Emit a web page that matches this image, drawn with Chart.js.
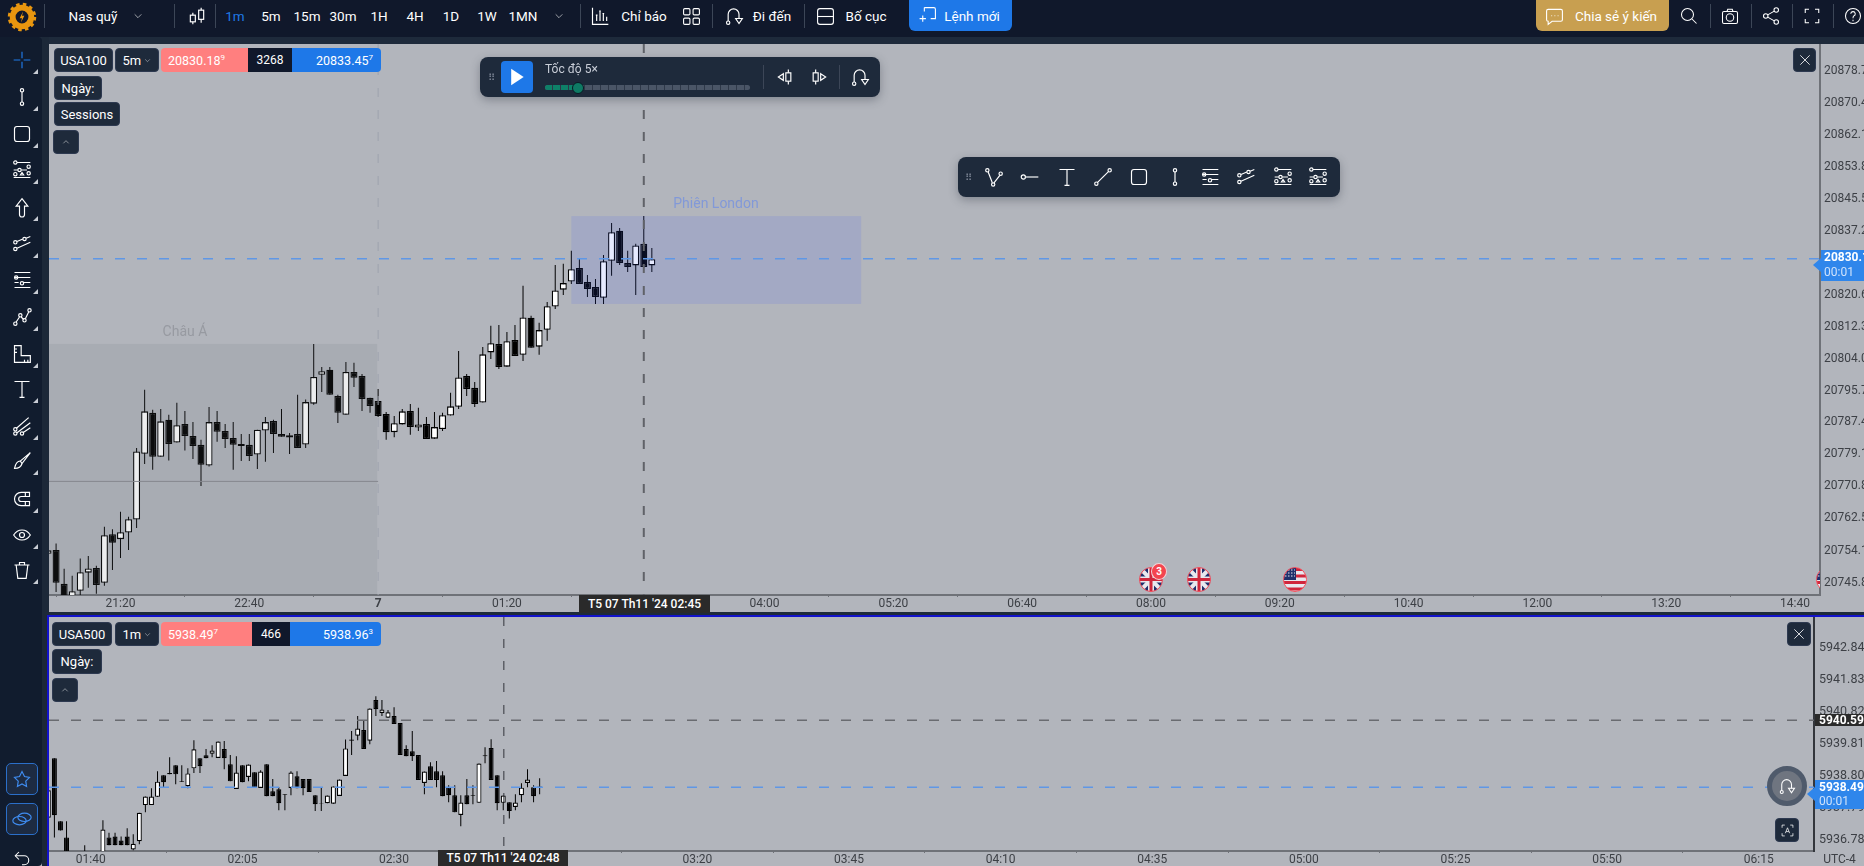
<!DOCTYPE html>
<html>
<head>
<meta charset="utf-8">
<title>USA100 / USA500</title>
<script src="https://cdn.jsdelivr.net/npm/chart.js@4"></script>
<style>
  html, body { margin: 0; padding: 0; width: 1864px; height: 866px; overflow: hidden; background: #1c2838; font-family: Roboto, sans-serif; }
  #shell div, #shell span { box-sizing: border-box; }
  .abs { position: absolute; box-sizing: border-box; display: flex; align-items: center; justify-content: center; white-space: nowrap; color: #fff; font-size: 13.5px; }
  canvas { position: absolute; display: block; }
  svg { display: block; overflow: visible; }
</style>
</head>
<body>
<div id="shell"></div>
<canvas id="top-chart" style="left:49px;top:44px;width:1815px;height:568px"></canvas>
<canvas id="bottom-chart" style="left:49px;top:617px;width:1815px;height:249px"></canvas>
<div id="over"></div>
<script>
// USA100 5m, one entry per 5 minute slot, slot 0 is 00:00 on the 7th
const topFirstSlot = -41;
const topOpen = [
  20753.3, 20754.3, 20745.5, 20740.9, 20743.7, 20748.4, 20749.6, 20745.8, 20758.4, 20757.1,
  20758.8, 20762.2, 20779.3, 20789.9, 20778.5, 20788.1, 20782.2, 20787.0, 20783.9, 20781.6,
  20776.2, 20787.5, 20785.2, 20783.4, 20781.8, 20781.6, 20779.1, 20785.3, 20787.8, 20784.4,
  20783.5, 20784.4, 20781.7, 20792.3, 20799.8, 20801.1, 20794.3, 20789.4, 20800.5, 20799.5,
  20793.8, 20793.0, 20789.6, 20784.9, 20786.9, 20790.4, 20786.1, 20787.0, 20783.2, 20785.7,
  20789.2, 20791.5, 20799.5, 20796.4, 20792.6, 20805.6, 20807.8, 20801.9, 20808.8, 20805.0,
  20814.6, 20807.1, 20811.5, 20817.5, 20821.9, 20824.0, 20827.5, 20823.9, 20822.6, 20819.8,
  20829.4, 20837.2, 20828.8, 20828.2, 20833.8, 20828.2
];
const topHigh = [
  20754.2, 20756.0, 20749.4, 20747.6, 20752.1, 20752.7, 20750.2, 20760.3, 20759.7, 20764.2,
  20762.9, 20780.8, 20795.9, 20790.7, 20790.9, 20789.4, 20792.5, 20790.4, 20787.5, 20782.9,
  20791.4, 20790.4, 20787.0, 20787.5, 20784.4, 20784.4, 20785.5, 20788.8, 20788.1, 20790.9,
  20784.7, 20794.6, 20793.4, 20807.8, 20801.8, 20801.8, 20794.6, 20803.1, 20802.9, 20800.0,
  20793.8, 20796.1, 20790.1, 20789.1, 20790.9, 20792.2, 20791.2, 20788.8, 20790.1, 20789.9,
  20795.1, 20806.0, 20800.0, 20797.9, 20807.0, 20812.5, 20812.7, 20810.9, 20812.7, 20822.9,
  20815.1, 20813.3, 20818.7, 20828.3, 20828.6, 20832.0, 20829.9, 20825.7, 20824.7, 20830.9,
  20839.2, 20837.9, 20832.0, 20833.8, 20841.0, 20832.7
];
const topLow = [
  20753.3, 20743.4, 20740.5, 20740.0, 20742.6, 20744.5, 20742.9, 20745.0, 20749.1, 20752.2,
  20754.3, 20760.0, 20776.6, 20775.1, 20778.5, 20777.5, 20782.2, 20780.1, 20777.9, 20770.9,
  20776.0, 20782.4, 20780.8, 20775.1, 20777.4, 20777.4, 20775.3, 20777.2, 20779.5, 20783.7,
  20779.2, 20780.8, 20780.8, 20792.0, 20795.3, 20794.6, 20787.3, 20789.4, 20796.6, 20790.4,
  20789.9, 20788.8, 20782.9, 20783.6, 20786.9, 20784.2, 20785.2, 20783.1, 20783.2, 20785.2,
  20789.2, 20790.9, 20794.3, 20791.4, 20792.6, 20803.9, 20801.3, 20801.9, 20804.7, 20803.4,
  20806.8, 20805.0, 20808.6, 20816.9, 20820.5, 20823.4, 20823.4, 20820.0, 20818.2, 20818.2,
  20825.5, 20828.3, 20826.5, 20820.5, 20827.5, 20826.5
];
const topClose = [
  20754.2, 20745.8, 20740.9, 20743.6, 20748.5, 20749.5, 20745.2, 20758.1, 20756.2, 20758.9,
  20762.3, 20779.9, 20790.3, 20778.5, 20787.7, 20781.8, 20786.7, 20783.9, 20781.3, 20776.4,
  20787.5, 20785.0, 20783.1, 20781.6, 20781.3, 20778.7, 20785.5, 20787.5, 20784.4, 20783.7,
  20784.1, 20780.8, 20792.7, 20799.2, 20800.7, 20794.6, 20789.9, 20800.5, 20799.0, 20793.5,
  20791.7, 20789.1, 20784.9, 20787.2, 20790.3, 20786.2, 20786.9, 20783.1, 20786.2, 20789.3,
  20791.6, 20799.1, 20796.1, 20792.2, 20805.1, 20808.0, 20801.8, 20808.5, 20804.7, 20814.7,
  20806.8, 20811.4, 20817.6, 20821.7, 20823.6, 20827.2, 20823.4, 20822.1, 20820.0, 20829.3,
  20836.8, 20828.8, 20827.8, 20833.4, 20827.8, 20829.8
];
const topTimeLabels = ['21:20', '22:40', '7', '01:20', '', '04:00', '05:20', '06:40', '08:00', '09:20', '10:40', '12:00', '13:20', '14:40'];
const topPriceTicks = [
  20878.72, 20870.41, 20862.10, 20853.80, 20845.50, 20837.20, 20828.90, 20820.60, 20812.30,
  20804.00, 20795.70, 20787.40, 20779.10, 20770.80, 20762.50, 20754.10, 20745.80
];

// USA500 1m, slot 0 is 01:40
const bottomFirstSlot = -7;
const bottomOpen = [
  5937.47, 5939.35, 5937.36, 5936.85, 5936.30, 5936.05, 5936.39, 5936.30, 5936.15, 5936.34,
  5936.85, 5936.88, 5936.75, 5936.88, 5936.47, 5936.73, 5937.87, 5937.87, 5938.13, 5938.81,
  5938.88, 5939.13, 5938.62, 5938.47, 5939.03, 5939.35, 5939.44, 5939.49, 5939.36, 5939.64,
  5939.16, 5938.38, 5939.13, 5938.76, 5938.91, 5938.41, 5939.16, 5938.31, 5938.37, 5938.19,
  5938.41, 5938.78, 5938.69, 5938.69, 5938.18, 5937.91, 5937.93, 5937.91, 5938.16, 5938.79,
  5939.94, 5940.06, 5940.24, 5939.90, 5941.19, 5940.78, 5940.63, 5940.68, 5940.46, 5939.64,
  5939.57, 5939.45, 5938.57, 5939.10, 5938.94, 5938.81, 5938.43, 5938.18, 5937.56, 5938.18,
  5938.18, 5937.94, 5939.44, 5939.67, 5938.81, 5937.94, 5937.96, 5937.81, 5938.18, 5938.57,
  5938.43, 5938.46
];
const bottomHigh = [
  5938.34, 5939.35, 5937.36, 5937.36, 5936.38, 5936.38, 5936.60, 5936.38, 5936.38, 5937.39,
  5937.00, 5937.00, 5936.88, 5937.14, 5936.95, 5937.63, 5938.14, 5938.40, 5938.94, 5938.81,
  5939.38, 5939.13, 5939.13, 5939.03, 5939.92, 5939.35, 5939.64, 5939.76, 5939.88, 5939.89,
  5939.45, 5939.41, 5939.13, 5939.15, 5938.91, 5938.97, 5939.16, 5938.69, 5938.43, 5938.21,
  5938.94, 5938.94, 5938.69, 5938.69, 5938.18, 5938.43, 5938.17, 5938.46, 5938.68, 5939.94,
  5940.21, 5940.68, 5940.55, 5940.92, 5941.31, 5941.19, 5940.87, 5940.96, 5940.46, 5939.76,
  5940.21, 5939.45, 5938.93, 5939.22, 5939.26, 5938.94, 5938.50, 5938.50, 5938.18, 5938.69,
  5938.50, 5939.18, 5939.70, 5939.95, 5938.81, 5938.17, 5937.96, 5938.21, 5938.56, 5939.00,
  5938.50, 5938.72
];
const bottomLow = [
  5937.47, 5936.85, 5937.07, 5936.13, 5936.00, 5935.95, 5936.13, 5936.00, 5936.05, 5936.28,
  5936.60, 5936.60, 5936.60, 5936.60, 5936.44, 5936.63, 5937.64, 5937.87, 5938.13, 5938.43,
  5938.84, 5938.53, 5938.60, 5938.40, 5938.88, 5938.88, 5939.35, 5939.38, 5939.36, 5939.00,
  5938.62, 5938.38, 5938.59, 5938.62, 5938.43, 5938.41, 5938.15, 5938.15, 5937.71, 5937.71,
  5938.18, 5938.40, 5938.18, 5938.28, 5937.68, 5937.68, 5937.93, 5937.91, 5938.16, 5938.79,
  5939.45, 5939.92, 5939.64, 5939.79, 5940.68, 5940.68, 5940.63, 5940.43, 5939.45, 5939.41,
  5939.26, 5938.66, 5938.21, 5938.66, 5938.43, 5938.15, 5937.96, 5937.64, 5937.20, 5937.90,
  5937.90, 5937.94, 5939.19, 5938.66, 5937.71, 5937.71, 5937.45, 5937.71, 5937.96, 5938.43,
  5937.96, 5938.21
];
const bottomClose = [
  5938.34, 5937.55, 5937.07, 5936.34, 5936.10, 5936.30, 5936.23, 5936.10, 5936.30, 5937.10,
  5936.60, 5936.60, 5936.60, 5936.60, 5936.65, 5937.63, 5938.14, 5938.14, 5938.61, 5938.59,
  5938.84, 5938.84, 5938.60, 5938.87, 5939.63, 5939.10, 5939.35, 5939.59, 5939.88, 5939.35,
  5938.62, 5938.90, 5938.59, 5939.15, 5938.43, 5938.93, 5938.15, 5938.15, 5937.93, 5938.21,
  5938.90, 5938.40, 5938.40, 5938.28, 5937.90, 5937.93, 5938.17, 5938.46, 5938.68, 5939.66,
  5939.90, 5940.29, 5939.64, 5940.92, 5940.90, 5940.89, 5940.80, 5940.43, 5939.45, 5939.41,
  5939.41, 5938.66, 5938.93, 5938.66, 5938.66, 5938.15, 5938.18, 5937.64, 5937.95, 5937.90,
  5938.16, 5939.18, 5939.41, 5938.66, 5937.93, 5938.17, 5937.68, 5937.95, 5938.42, 5938.68,
  5938.15, 5938.41
];
const bottomTimeLabels = ['01:40', '02:05', '02:30', '', '03:20', '03:45', '04:10', '04:35', '05:00', '05:25', '05:50', '06:15'];
const bottomPriceTicks = [5942.840, 5941.830, 5940.820, 5939.810, 5938.800, 5937.790, 5936.780];

// session boxes and price lines
const asiaBox = { from: -41, to: 0, high: 20807.8, mid: 20772.1 };
const londonBox = { from: 24, to: 60, low: 20818.2, high: 20841.0 };
const topBidLine = 20829.9;
const topCrossSlot = 33;
const bottomAskLine = 5940.55;
const bottomBidLine = 5938.43;
const bottomCrossSlot = 68.1;

function candleDatasets(first, open, high, low, close, bodyWidth, borderWidth) {
  const bodies = open.map((o, i) => ({ x: first + i, y: [o, close[i]] }));
  const wicks = high.map((h, i) => ({ x: first + i, y: [low[i], h] }));
  return [
    {
      data: bodies,
      grouped: false,
      barThickness: bodyWidth,
      borderWidth: borderWidth,
      borderSkipped: false,
      inflateAmount: 0,
      borderColor: '#000',
      backgroundColor: open.map((o, i) => (close[i] >= o ? '#fff' : '#000')),
    },
    {
      data: wicks,
      grouped: false,
      barThickness: 1,
      inflateAmount: 0,
      backgroundColor: '#000',
    },
  ];
}

function dashedLine(ctx, x1, y1, x2, y2, color, width, dash) {
  ctx.save();
  ctx.strokeStyle = color;
  ctx.lineWidth = width;
  ctx.setLineDash(dash);
  ctx.beginPath();
  ctx.moveTo(x1, y1);
  ctx.lineTo(x2, y2);
  ctx.stroke();
  ctx.restore();
}

const topOverlay = {
  id: 'topOverlay',
  afterDatasetsDraw(chart) {
    const { ctx, chartArea: a, scales: { x, y } } = chart;
    ctx.save();
    ctx.beginPath();
    ctx.rect(a.left, a.top, a.right - a.left, a.bottom - a.top);
    ctx.clip();
    ctx.fillStyle = 'rgba(100,105,115,0.12)';
    ctx.fillRect(x.getPixelForValue(asiaBox.from), y.getPixelForValue(asiaBox.high),
      x.getPixelForValue(asiaBox.to) - x.getPixelForValue(asiaBox.from) - 1, a.bottom - y.getPixelForValue(asiaBox.high));
    ctx.fillStyle = 'rgba(60,90,255,0.13)';
    ctx.fillRect(x.getPixelForValue(londonBox.from), y.getPixelForValue(londonBox.high),
      x.getPixelForValue(londonBox.to) - x.getPixelForValue(londonBox.from),
      y.getPixelForValue(londonBox.low) - y.getPixelForValue(londonBox.high));
    const mid = y.getPixelForValue(asiaBox.mid);
    dashedLine(ctx, a.left, mid, x.getPixelForValue(asiaBox.to), mid, '#85888e', 1, []);
    const sep = x.getPixelForValue(0);
    dashedLine(ctx, sep, a.top, sep, a.bottom, '#9ea3ad', 1, [9, 13]);
    const bid = y.getPixelForValue(topBidLine);
    dashedLine(ctx, a.left, bid, a.right, bid, '#5f97e6', 1.5, [10, 12]);
    const cross = x.getPixelForValue(topCrossSlot);
    dashedLine(ctx, cross, a.top, cross, a.bottom, '#606268', 2, [9, 13]);
    ctx.restore();
  },
};

const bottomOverlay = {
  id: 'bottomOverlay',
  afterDatasetsDraw(chart) {
    const { ctx, chartArea: a, scales: { x, y } } = chart;
    const ask = y.getPixelForValue(bottomAskLine);
    dashedLine(ctx, a.left, ask, a.right, ask, '#696b70', 1.5, [10, 12]);
    const bid = y.getPixelForValue(bottomBidLine);
    dashedLine(ctx, a.left, bid, a.right, bid, '#5f97e6', 1.5, [10, 12]);
    const cross = x.getPixelForValue(bottomCrossSlot);
    dashedLine(ctx, cross, a.top, cross, a.bottom, '#33353a', 1, [9, 13]);
  },
};

function makeChart(id, datasets, xOpts, yOpts, overlay) {
  return new Chart(document.getElementById(id), {
    type: 'bar',
    data: { datasets: datasets },
    plugins: [overlay],
    options: {
      responsive: false,
      animation: false,
      events: [],
      layout: { autoPadding: false, padding: 0 },
      plugins: { legend: { display: false }, tooltip: { enabled: false } },
      scales: {
        x: {
          type: 'linear',
          min: xOpts.min,
          max: xOpts.max,
          offset: false,
          afterFit: (s) => { s.height = xOpts.height; s.paddingLeft = 0; s.paddingRight = 0; },
          afterBuildTicks: (s) => {
            s.ticks = xOpts.labels.map((label, i) => ({ value: xOpts.start + i * xOpts.step }));
          },
          border: { color: '#6f7278', width: 2 },
          grid: { drawOnChartArea: false, tickLength: 2, color: '#6f7278' },
          ticks: {
            autoSkip: false,
            maxRotation: 0,
            padding: 0,
            color: '#3d4046',
            font: (c) => ({ family: 'Roboto', size: 12, weight: c.tick && c.tick.label === '7' ? 'bold' : 'normal' }),
            callback: (v) => xOpts.labels[Math.round((v - xOpts.start) / xOpts.step)],
          },
        },
        y: {
          type: 'linear',
          position: 'right',
          min: yOpts.min,
          max: yOpts.max,
          afterFit: (s) => { s.width = yOpts.width; s.paddingTop = 0; s.paddingBottom = 0; },
          afterBuildTicks: (s) => { s.ticks = yOpts.ticks.map((v) => ({ value: v })); },
          border: { color: yOpts.border, width: 2 },
          grid: { display: false, drawTicks: false },
          ticks: {
            padding: yOpts.pad,
            color: '#3d4046',
            font: { family: 'Roboto', size: yOpts.fontSize },
            callback: (v) => v.toFixed(yOpts.digits),
          },
        },
      },
    },
  });
}

for (const c of [['top-chart', 1815, 568], ['bottom-chart', 1815, 249]]) {
  const el = document.getElementById(c[0]);
  el.width = c[1];
  el.height = c[2];
}

const topChart = makeChart('top-chart',
  candleDatasets(topFirstSlot, topOpen, topHigh, topLow, topClose, 7, 1.3),
  { min: -40.88, max: 179.1, height: 17, start: -32, step: 16, labels: topTimeLabels },
  { min: 20742.6, max: 20885.7, width: 44, ticks: topPriceTicks, digits: 2, border: '#6f7278', pad: 4, fontSize: 12 },
  topOverlay);

const bottomChart = makeChart('bottom-chart',
  candleDatasets(bottomFirstSlot, bottomOpen, bottomHigh, bottomLow, bottomClose, 5, 1.2),
  { min: -6.89, max: 284.1, height: 15, start: 0, step: 25, labels: bottomTimeLabels },
  { min: 5936.42, max: 5943.81, width: 50, ticks: bottomPriceTicks, digits: 3, border: '#33363c', pad: 5, fontSize: 12.5 },
  bottomOverlay);

// everything below is the page around the charts
const shell = document.getElementById('shell');
const over = document.getElementById('over');
function put(parent, x, y, w, h, css, html) {
  const d = document.createElement('div');
  d.className = 'abs';
  d.style.cssText = `left:${x}px;top:${y}px;width:${w}px;height:${h}px;${css || ''}`;
  d.innerHTML = html || '';
  parent.appendChild(d);
  return d;
}
function icon(paths, size, color) {
  return `<svg width="${size}" height="${size}" viewBox="0 0 24 24" fill="none" stroke="${color || '#fff'}" stroke-width="1.4">${paths}</svg>`;
}
const chev = '<path d="M4 8l8 8 8-8"/>';
const ic = {
  candle: '<path d="M7 8v3M7 19v3M17 2v3M17 16v4"/><rect x="4" y="11" width="6" height="8"/><rect x="14" y="5" width="6" height="11"/>',
  bars: '<path d="M3 2v20h19M8 18v-7M12 18V6M16 18v-9M20 18v-5M7 11h2M11 6h2M15 9h2"/>',
  grid: '<rect x="2" y="2" width="8" height="8" rx="1.5"/><rect x="14" y="2" width="8" height="8" rx="1.5"/><rect x="2" y="14" width="8" height="8" rx="1.5"/><rect x="14" y="14" width="8" height="8" rx="1.5"/>',
  goto: '<circle cx="5" cy="20" r="2"/><path d="M5 18V10a6.5 6.5 0 0 1 13 0v5"/><path d="M14 15h8l-4 6z"/>',
  layout: '<rect x="2" y="2" width="20" height="20" rx="3"/><path d="M2 12h20"/>',
  order: '<path d="M8 2h12a2 2 0 0 1 2 2v12h-6M8 2v5M2 16h8M6 12v8"/>',
  chat: '<path d="M4 3h16a2 2 0 0 1 2 2v11a2 2 0 0 1-2 2H9l-5 4v-4a2 2 0 0 1-2-2V5a2 2 0 0 1 2-2z"/><path d="M8 11h1M12 11h1M16 11h1"/>',
  search: '<circle cx="10" cy="10" r="8"/><path d="M16 16l6 6"/>',
  camera: '<rect x="2" y="6" width="20" height="16" rx="2"/><circle cx="12" cy="14" r="5"/><path d="M8 6l1-3h6l1 3"/>',
  share: '<circle cx="19" cy="4" r="3"/><circle cx="5" cy="12" r="3"/><circle cx="19" cy="20" r="3"/><path d="M7.6 10.5l8.8-5M7.6 13.5l8.8 5"/>',
  full: '<path d="M3 8V3h5M16 3h5v5M21 16v5h-5M8 21H3v-5"/>',
  help: '<circle cx="12" cy="12" r="10"/><path d="M9 9a3 3 0 1 1 4 3c-1 .5-1 1-1 3M12 17v2"/>',
  cross: '<path d="M12 2v8M12 14v8M2 12h8M14 12h8"/>',
  trend: '<circle cx="12" cy="4" r="2"/><circle cx="12" cy="20" r="2"/><path d="M12 6v12"/>',
  rect: '<rect x="3" y="3" width="18" height="18" rx="3"/>',
  fibo: '<path d="M6 3h16M2 12h5M11 12h7M2 21h20"/><circle cx="4" cy="3" r="2"/><circle cx="20" cy="8" r="2"/><circle cx="9" cy="12" r="2"/><circle cx="20" cy="16" r="2"/><circle cx="4" cy="17" r="2"/><path d="M10 18l2-3 2 3z"/>',
  arrow: '<path d="M12 2l7 9h-4v10a3 3 0 0 1-6 0V11H5z"/>',
  channel: '<circle cx="4" cy="10" r="2"/><circle cx="4" cy="18" r="2"/><circle cx="15" cy="6" r="2"/><path d="M6 9l7-3M17 5l5-2M6 17l16-7"/>',
  lines: '<path d="M3 3h19M3 9h19M3 15h5M14 15h8M3 21h19"/><circle cx="5" cy="9" r="2"/><circle cx="12" cy="16" r="2"/>',
  wave: '<circle cx="4" cy="20" r="2"/><circle cx="10" cy="10" r="2"/><circle cx="15" cy="16" r="2"/><circle cx="21" cy="4" r="2"/><path d="M5 18l4-6M11 12l3 3M16 14l4-8"/>',
  ruler: '<path d="M3 2h8v12h11v8H3zM3 6h3M3 10h3M15 22v-3M19 22v-3"/>',
  text: '<path d="M3 3h18M12 3v19M9 22h6"/>',
  pitch: '<circle cx="4" cy="16" r="2"/><circle cx="4" cy="21" r="2"/><circle cx="12" cy="21" r="2"/><path d="M5 15L20 2M6 20L22 8M13 20l9-6"/>',
  brush: '<path d="M22 2L10 12l2 3z"/><path d="M10 12c-4 0-6 4-7 9 5 0 8-2 9-6"/>',
  magnet: '<path d="M21 4H11a8 8 0 0 0 0 16h10v-5H11a3 3 0 0 1 0-6h10zM16 4v5M16 15v5"/>',
  eye: '<path d="M2 12c5-8 15-8 20 0-5 8-15 8-20 0z"/><circle cx="12" cy="12" r="3"/>',
  trash: '<path d="M3 6h18M9 6V3h6v3M5 6l2 16h10l2-16"/>',
  star: '<path d="M12 3l3 6 6 1-4.500 4.500 1 6.500-5.500-3-5.500 3 1-6.500L3 10l6-1z"/>',
  link: '<ellipse cx="9" cy="14" rx="8" ry="5"/><ellipse cx="15" cy="10" rx="8" ry="5"/>',
  back: '<path d="M8 4L3 9l5 5"/><path d="M3 9h12a6 6 0 0 1 0 12h-3"/>',
  stepL: '<path d="M16 3v4M16 17v4"/><rect x="13" y="7" width="6" height="10"/><path d="M10 8l-6 4 6 4z"/>',
  stepR: '<path d="M8 3v4M8 17v4"/><rect x="5" y="7" width="6" height="10"/><path d="M14 8l6 4-6 4z"/>',
  path: '<circle cx="4" cy="4" r="2"/><circle cx="20" cy="8" r="2"/><circle cx="11" cy="21" r="2"/><path d="M5 6l5 13M12 19l7-9"/>',
  ray: '<circle cx="4" cy="12" r="2.500"/><path d="M7 12h15"/>',
  line: '<circle cx="20" cy="4" r="2"/><circle cx="4" cy="20" r="2"/><path d="M5.500 18.500l13-13"/>',
  close: '<path d="M4 4l16 16M20 4L4 20"/>',
  play: '<path d="M5 2l15 10-15 10z" fill="#fff" stroke="none"/>',
  auto: '<path d="M2 7V2h5M17 2h5v5M22 17v5h-5M7 22H2v-5"/><path d="M8 17l4-10 4 10M9.500 14h5"/>',
};

// header band
put(shell, 0, 0, 1864, 37, 'background:#10182b');
put(shell, 0, 37, 1864, 7, 'background:#1e2a3b');
put(shell, 0, 44, 1864, 568, 'background:#b2b5bc');
put(shell, 0, 612, 1864, 3, 'background:#1e2a3b');
put(shell, 0, 615, 1864, 2, 'background:#1212cc');
put(shell, 0, 617, 1864, 249, 'background:#b2b5bc');
put(shell, 42, 37, 7, 829, 'background:#1c2838');
put(shell, 47, 615, 2, 251, 'background:#1212cc');
put(shell, 0, 37, 42, 829, 'background:#111c2e;border-radius:0 4px 4px 0');

// logo
put(over, 8, 3, 28, 28, '', `<svg width="28" height="28" viewBox="0 0 24 24"><circle cx="12" cy="12" r="8" fill="#10182b" stroke="#e8960f" stroke-width="5"/><circle cx="12" cy="12" r="11" fill="none" stroke="#e8960f" stroke-width="2.400" stroke-dasharray="3 2.800"/><path d="M13 7l-3 6h2l-1 4 3-6h-2z" fill="#e8960f"/></svg>`);
put(over, 68, 0, 50, 31, '', 'Nas quỹ');
put(over, 132, 11, 12, 10, '', icon(chev, 10));
for (const x of [44, 174, 215, 580, 712, 804, 1710, 1751, 1792, 1833]) put(over, x, 4, 1, 24, 'background:#3c4657');
put(over, 186, 5, 22, 22, '', icon(ic.candle, 20));
const frames = ['1m', '5m', '15m', '30m', '1H', '4H', '1D', '1W', '1MN'];
frames.forEach((f, i) => put(over, 217 + i * 36, 0, 36, 31, i === 0 ? 'color:#1f7ae8' : '', f));
put(over, 553, 11, 12, 10, '', icon(chev, 10));
put(over, 590, 5, 20, 22, '', icon(ic.bars, 20));
put(over, 618, 0, 52, 31, '', 'Chỉ báo');
put(over, 681, 6, 20, 20, '', icon(ic.grid, 19));
put(over, 724, 5, 20, 22, '', icon(ic.goto, 20));
put(over, 750, 0, 44, 31, '', 'Đi đến');
put(over, 815, 6, 20, 20, '', icon(ic.layout, 19));
put(over, 843, 0, 46, 31, '', 'Bố cục');
put(over, 909, 0, 103, 31, 'background:#1e78e8;border-radius:0 0 6px 6px');
put(over, 917, 5, 20, 20, '', icon(ic.order, 19));
put(over, 942, 0, 60, 31, '', 'Lệnh mới');
put(over, 1536, 0, 133, 31, 'background:#c89f50;border-radius:0 0 6px 6px');
put(over, 1544, 6, 20, 20, '', icon(ic.chat, 19));
put(over, 1570, 0, 92, 31, '', 'Chia sẻ ý kiến');
put(over, 1680, 6, 18, 20, '', icon(ic.search, 18));
put(over, 1721, 6, 18, 20, '', icon(ic.camera, 18));
put(over, 1762, 6, 18, 20, '', icon(ic.share, 18));
put(over, 1803, 6, 18, 20, '', icon(ic.full, 18));
put(over, 1844, 6, 18, 20, '', icon(ic.help, 18));

// left tool column
const tools = [['cross', 60], ['trend', 97], ['rect', 134], ['fibo', 170], ['arrow', 207], ['channel', 244], ['lines', 280], ['wave', 317], ['ruler', 354], ['text', 389], ['pitch', 426], ['brush', 461], ['magnet', 499], ['eye', 535], ['trash', 570]];
tools.forEach(([name, y], i) => {
  put(over, 11, y - 11, 22, 22, '', icon(ic[name], 20, i === 0 ? '#1f7ae8' : '#fff'));
  put(over, 33, y + 9, 5, 5, 'width:0;height:0;border-left:5px solid transparent;border-bottom:5px solid #c8ccd4');
});
put(over, 6, 763, 32, 32, 'background:#1d2b42;border:1px solid #2b6fc9;border-radius:5px', icon(ic.star, 20, '#3f8cf0'));
put(over, 6, 803, 32, 32, 'background:#1d2b42;border:1px solid #2b6fc9;border-radius:5px', icon(ic.link, 20, '#3f8cf0'));
put(over, 11, 850, 22, 16, '', icon(ic.back, 18));

// legends on the panels
const chip = 'background:#1e2a3b;border:1px solid #2d3950;border-radius:4px;font-size:13px;';
const sup = 'font-size:8px;margin-top:-5px';
put(over, 54, 48, 59, 24, chip, 'USA100');
put(over, 115, 48, 44, 24, chip, '5m&nbsp;' + icon(chev, 7));
put(over, 161, 48, 87, 24, 'background:#ff7f7f;border-radius:4px 0 0 4px;font-size:12.500px;justify-content:flex-start;padding-left:7px', `20830.18<sup style="${sup}">9</sup>`);
put(over, 248, 48, 44, 24, 'background:#10182b;font-size:12px', '3268');
put(over, 292, 48, 89, 24, 'background:#1e78e8;border-radius:0 4px 4px 0;font-size:12.500px;justify-content:flex-end;padding-right:8px', `20833.45<sup style="${sup}">7</sup>`);
put(over, 54, 76, 48, 24, chip, 'Ngày:');
put(over, 54, 102, 66, 24, chip, 'Sessions');
put(over, 53, 130, 26, 24, chip, icon('<path d="M4 16l8-8 8 8"/>', 8));
put(over, 52, 622, 60, 24, chip, 'USA500');
put(over, 115, 622, 44, 24, chip, '1m&nbsp;' + icon(chev, 7));
put(over, 161, 622, 91, 24, 'background:#ff7f7f;border-radius:4px 0 0 4px;font-size:12.500px;justify-content:flex-start;padding-left:7px', `5938.49<sup style="${sup}">7</sup>`);
put(over, 252, 622, 38, 24, 'background:#10182b;font-size:12px', '466');
put(over, 290, 622, 91, 24, 'background:#1e78e8;border-radius:0 4px 4px 0;font-size:12.500px;justify-content:flex-end;padding-right:8px', `5938.96<sup style="${sup}">3</sup>`);
put(over, 52, 649, 50, 25, chip, 'Ngày:');
put(over, 52, 678, 26, 24, chip, icon('<path d="M4 16l8-8 8 8"/>', 8));
put(over, 1793, 48, 23, 24, chip, icon(ic.close, 14));
put(over, 1787, 622, 24, 24, chip, icon(ic.close, 14));

// replay panel
put(over, 480, 57, 400, 40, 'background:#1e2a3b;border-radius:8px;box-shadow:0 3px 10px rgba(40,45,60,.35)');
put(over, 487, 70, 8, 14, 'color:#7b8494;font-size:10px', '⠿');
put(over, 501, 61, 32, 32, 'background:#1e78e8;border-radius:4px', icon(ic.play, 20));
put(over, 545, 62, 60, 14, 'justify-content:flex-start;font-size:12px;color:#c9ced8', 'Tốc độ 5×');
put(over, 545, 85, 205, 5, 'background:repeating-linear-gradient(90deg,#4a5566 0 7px,#2e3848 7px 8px);border-radius:3px');
put(over, 545, 85, 33, 5, 'background:repeating-linear-gradient(90deg,#0e8068 0 7px,#2e3848 7px 8px);border-radius:3px');
put(over, 572, 82, 12, 12, 'background:#0e7a64;border:1px solid #0a1a24;border-radius:50%');
put(over, 763, 65, 1, 24, 'background:#3c4657');
put(over, 839, 65, 1, 24, 'background:#3c4657');
put(over, 775, 67, 20, 20, '', icon(ic.stepL, 20));
put(over, 809, 67, 20, 20, '', icon(ic.stepR, 20));
put(over, 850, 67, 20, 20, '', icon(ic.goto, 20));

// drawing toolbar
put(over, 958, 157, 382, 40, 'background:#1e2a3b;border-radius:8px;box-shadow:0 3px 10px rgba(40,45,60,.35)');
put(over, 965, 170, 6, 14, 'color:#7b8494;font-size:10px', '⠿');
[['path', 994], ['ray', 1030], ['text', 1067], ['line', 1103], ['rect', 1139], ['trend', 1175], ['lines', 1210], ['channel', 1246], ['fibo', 1283], ['fibo', 1318]].forEach(([name, x]) => {
  put(over, x - 10, 167, 20, 20, '', icon(ic[name], 20));
});

// session names
put(over, 650, 195, 132, 16, 'color:#8299d8;font-size:14px', 'Phiên London');
put(over, 140, 323, 90, 16, 'color:#979aa1;font-size:14px', 'Châu Á');

// crosshair time boxes
put(over, 579, 595, 131, 18, 'background:#2a2a2a;font-size:12px;font-weight:500', "T5 07 Th11 '24 02:45");
put(over, 438, 850, 130, 16, 'background:#2a2a2a;font-size:12px;font-weight:500', "T5 07 Th11 '24 02:48");

// price boxes on the right axis
put(over, 1821, 250, 43, 31, 'background:#2f86eb;display:block;padding-left:3px;font-size:12px;line-height:15px;font-weight:700', '20830.18<br><span style="font-weight:400;color:#cfe2fb">00:01</span>');
put(over, 1813, 258, 8, 14, 'width:0;height:0;border-top:7px solid transparent;border-bottom:7px solid transparent;border-right:8px solid #2f86eb');
put(over, 1815, 714, 49, 12, 'background:#2a2a2a;display:block;padding-left:4px;font-size:12px;line-height:12px;font-weight:700', '5940.59');
put(over, 1815, 780, 49, 29, 'background:#2f86eb;display:block;padding-left:4px;font-size:12px;line-height:14px;font-weight:700', '5938.49<br><span style="font-weight:400;color:#cfe2fb">00:01</span>');
put(over, 1807, 787, 8, 14, 'width:0;height:0;border-top:7px solid transparent;border-bottom:7px solid transparent;border-right:8px solid #2f86eb');
put(over, 1815, 851, 49, 15, 'color:#3d4046;font-size:12px', 'UTC-4');

// go-to circle and auto scale
put(over, 1767, 766, 40, 40, 'background:#6f7580;border:5px solid #4f5a6b;border-radius:50%', icon(ic.goto, 18));
put(over, 1775, 818, 24, 24, chip, icon(ic.auto, 13));

// calendar flags under the top chart
const ukFlag = '<svg width="24" height="25" viewBox="0 0 24 25"><defs><clipPath id="uk"><ellipse cx="12" cy="12.500" rx="11.500" ry="12"/></clipPath></defs><g clip-path="url(#uk)"><rect width="24" height="25" fill="#1f2f6b"/><path d="M0 0l24 25M24 0L0 25" stroke="#e8e8ee" stroke-width="4"/><path d="M12 0v25M0 12.500h24" stroke="#e8e8ee" stroke-width="6"/><path d="M12 0v25M0 12.500h24" stroke="#d0263c" stroke-width="3"/></g><ellipse cx="12" cy="12.500" rx="11.500" ry="12" fill="none" stroke="#f4505c"/></svg>';
const usFlag = '<svg width="24" height="25" viewBox="0 0 24 25"><defs><clipPath id="us"><ellipse cx="12" cy="12.500" rx="11.500" ry="12"/></clipPath></defs><g clip-path="url(#us)"><rect width="24" height="25" fill="#e8e8ee"/><path d="M0 2.500h24M0 9h24M0 15.500h24M0 22h24" stroke="#d0263c" stroke-width="3"/><rect width="13" height="13" fill="#1f2f6b"/><path d="M2 3h10M2 6h10M2 9h10" stroke="#e8e8ee" stroke-dasharray="1.500 1.500"/></g><ellipse cx="12" cy="12.500" rx="11.500" ry="12" fill="none" stroke="#f4505c"/></svg>';
put(over, 1139, 567, 24, 25, '', ukFlag);
put(over, 1187, 567, 24, 25, '', ukFlag);
put(over, 1283, 567, 24, 25, '', usFlag);
put(over, 1816, 567, 4, 25, 'overflow:hidden;justify-content:flex-start', usFlag);
put(over, 1151, 563, 16, 17, 'background:#f4454f;border:1px solid #f3d4d8;border-radius:50%;font-size:10px;font-weight:700', '3');
</script>
</body>
</html>
